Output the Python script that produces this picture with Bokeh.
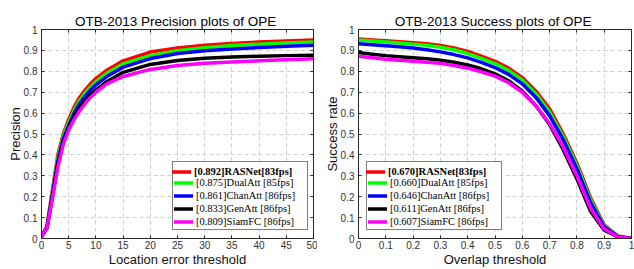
from bokeh.plotting import figure
from bokeh.layouts import row
from bokeh.models import Range1d, FixedTicker, Legend, LegendItem, LinearAxis
from bokeh.embed import file_html
from bokeh.resources import INLINE

# ---------------- data ----------------
trackers = ["RASNet", "DualAtt", "ChanAtt", "GenAtt", "SiamFC"]
colors = ["#ff0000", "#00ff00", "#0000ff", "#000000", "#ff00ff"]

prec_labels = ["[0.892]RASNet[83fps]", "[0.875]DualAtt [85fps]", "[0.861]ChanAtt [86fps]",
               "[0.833]GenAtt [86fps]", "[0.809]SiamFC [86fps]"]
succ_labels = ["[0.670]RASNet[83fps]", "[0.660]DualAtt [85fps]", "[0.646]ChanAtt [86fps]",
               "[0.611]GenAtt [86fps]", "[0.607]SiamFC [86fps]"]

prec_x = [0, 1, 2, 3, 4, 5, 6, 7, 8, 9, 10, 12, 15, 20, 25, 30, 35, 40, 45, 50]
prec_rasnet = [0.01, 0.06, 0.23, 0.40, 0.50, 0.57, 0.63, 0.675, 0.71, 0.74, 0.765, 0.805, 0.85, 0.892, 0.912, 0.925, 0.933, 0.94, 0.945, 0.95]
prec_dualatt = [0.01, 0.055, 0.22, 0.385, 0.49, 0.555, 0.615, 0.66, 0.695, 0.725, 0.75, 0.79, 0.835, 0.875, 0.898, 0.913, 0.923, 0.93, 0.936, 0.94]
prec_chanatt = [0.01, 0.05, 0.21, 0.37, 0.475, 0.54, 0.60, 0.645, 0.68, 0.71, 0.735, 0.775, 0.82, 0.861, 0.885, 0.898, 0.907, 0.914, 0.92, 0.925]
prec_genatt = [0.01, 0.05, 0.20, 0.355, 0.46, 0.525, 0.585, 0.625, 0.66, 0.69, 0.71, 0.75, 0.795, 0.833, 0.852, 0.862, 0.868, 0.872, 0.875, 0.877]
prec_siamfc = [0.01, 0.05, 0.19, 0.34, 0.45, 0.52, 0.57, 0.61, 0.645, 0.675, 0.70, 0.74, 0.775, 0.809, 0.828, 0.838, 0.845, 0.85, 0.855, 0.86]

succ_x = [0.0, 0.05, 0.1, 0.15, 0.2, 0.25, 0.3, 0.35, 0.4, 0.45, 0.5,
          0.55, 0.6, 0.65, 0.7, 0.75, 0.8, 0.85, 0.9, 0.95, 1.0]
succ_rasnet = [0.955, 0.950, 0.946, 0.942, 0.937, 0.932, 0.924, 0.912, 0.895, 0.873, 0.848,
               0.815, 0.770, 0.705, 0.620, 0.500, 0.360, 0.195, 0.065, 0.012, 0.0]
succ_dualatt = [0.950, 0.945, 0.940, 0.935, 0.930, 0.925, 0.915, 0.903, 0.885, 0.862, 0.837,
                0.803, 0.757, 0.692, 0.605, 0.488, 0.348, 0.185, 0.060, 0.011, 0.0]
succ_chanatt = [0.932, 0.927, 0.922, 0.917, 0.911, 0.903, 0.893, 0.880, 0.864, 0.843, 0.818,
                0.785, 0.740, 0.675, 0.588, 0.472, 0.333, 0.172, 0.055, 0.010, 0.0]
succ_genatt = [0.890, 0.882, 0.875, 0.870, 0.865, 0.860, 0.853, 0.843, 0.830, 0.812, 0.788,
               0.755, 0.705, 0.635, 0.545, 0.425, 0.285, 0.130, 0.040, 0.008, 0.0]
succ_siamfc = [0.872, 0.865, 0.858, 0.853, 0.848, 0.843, 0.838, 0.828, 0.815, 0.798, 0.777,
               0.745, 0.700, 0.635, 0.550, 0.438, 0.300, 0.145, 0.045, 0.008, 0.0]

prec_xticks = [0, 5, 10, 15, 20, 25, 30, 35, 40, 45, 50]
prec_xtick_labels = ["0", "5", "10", "15", "20", "25", "30", "35", "40", "45", "50"]
succ_xticks = [0.0, 0.1, 0.2, 0.3, 0.4, 0.5, 0.6, 0.7, 0.8, 0.9, 1.0]
succ_xtick_labels = ["0", "0.1", "0.2", "0.3", "0.4", "0.5", "0.6", "0.7", "0.8", "0.9", "1"]
yticks = [0.0, 0.1, 0.2, 0.3, 0.4, 0.5, 0.6, 0.7, 0.8, 0.9, 1.0]
ytick_labels = ["0", "0.1", "0.2", "0.3", "0.4", "0.5", "0.6", "0.7", "0.8", "0.9", "1"]

AXC = "#262626"
SANS = "Liberation Sans"
SERIF = "Liberation Serif"


def make_plot(title, xlabel, ylabel, xr, xt, xtl, xs, series, labels,
              top, bottom, left, right, width, height, leg_x):
    p = figure(width=width, height=height, output_backend="svg", toolbar_location=None,
               x_range=Range1d(*xr), y_range=Range1d(0, 1),
               min_border_left=left, min_border_right=right,
               min_border_top=top, min_border_bottom=bottom,
               background_fill_color="white", border_fill_color="white")
    p.title.text = title
    p.title.text_font = SANS
    p.title.text_font_size = "13.5px"
    p.title.text_font_style = "normal"
    p.title.text_color = "#000000"
    p.title.align = "center"
    p.title.standoff = 2
    p.outline_line_color = AXC
    p.outline_line_width = 1

    bottom_ax = p.below[0]
    left_ax = p.left[0]
    top_ax = LinearAxis()
    right_ax = LinearAxis()
    p.add_layout(top_ax, "above")
    p.add_layout(right_ax, "right")

    xo = {t: l for t, l in zip(xt, xtl)}
    yo = {t: l for t, l in zip(yticks, ytick_labels)}
    for ax in (bottom_ax, top_ax):
        ax.ticker = FixedTicker(ticks=xt)
        ax.major_label_overrides = xo
    for ax in (left_ax, right_ax):
        ax.ticker = FixedTicker(ticks=yticks)
        ax.major_label_overrides = yo
    for ax in (bottom_ax, top_ax, left_ax, right_ax):
        ax.axis_line_color = AXC
        ax.major_tick_line_color = AXC
        ax.minor_tick_line_color = None
        ax.major_tick_in = 3
        ax.major_tick_out = 0
        ax.major_label_text_font = SANS
        ax.major_label_text_font_size = "10px"
        ax.major_label_text_color = "#333333"
        ax.axis_label_text_font = SANS
        ax.axis_label_text_font_size = "13px"
        ax.axis_label_text_font_style = "normal"
        ax.axis_label_text_color = "#111111"
    bottom_ax.major_label_standoff = 2
    bottom_ax.axis_label = xlabel
    bottom_ax.axis_label_standoff = 0
    left_ax.major_label_standoff = 4
    left_ax.axis_label = ylabel
    left_ax.axis_label_standoff = -2
    for ax in (top_ax, right_ax):
        ax.major_label_text_color = None
        ax.major_label_text_font_size = "1px"
        ax.major_label_standoff = 0

    p.xgrid.ticker = FixedTicker(ticks=xt)
    p.ygrid.ticker = FixedTicker(ticks=yticks)
    for g in (p.xgrid, p.ygrid):
        g.grid_line_color = "#cfcfcf"
        g.grid_line_dash = "4 3"
        g.grid_line_width = 1

    rends = []
    for ys, c in zip(series, colors):
        r = p.line(xs, ys, line_color=c, line_width=3.5, line_join="round", line_cap="round")
        rends.append(r)

    # placeholder renderer for the first framed-legend row (drawn by the bold overlay)
    ghost = p.line([], [], line_alpha=0)

    items_b = [LegendItem(label="", renderers=[ghost])]
    for lab, r in zip(labels[1:], rends[1:]):
        items_b.append(LegendItem(label=lab, renderers=[r]))
    leg_b = Legend(items=items_b, location=(leg_x, 8))
    leg_a = Legend(items=[LegendItem(label=labels[0], renderers=[rends[0]])],
                   location=(leg_x, 60))
    for lg, bold in ((leg_b, False), (leg_a, True)):
        lg.label_text_font = SERIF
        lg.label_text_font_size = "10.5px"
        lg.label_text_font_style = "bold" if bold else "normal"
        lg.label_text_color = "#000000"
        lg.label_height = 13
        lg.glyph_height = 13
        lg.glyph_width = 19
        lg.label_standoff = 3
        lg.spacing = 0
        lg.padding = 1
        lg.margin = 0
        lg.label_width = 110
    leg_b.border_line_color = "#000000"
    leg_b.border_line_width = 1
    leg_b.background_fill_color = "white"
    leg_b.background_fill_alpha = 1.0
    leg_a.border_line_color = None
    leg_a.background_fill_alpha = 0.0
    p.add_layout(leg_b, "center")
    p.add_layout(leg_a, "center")
    return p


p1 = make_plot("OTB-2013  Precision plots of OPE", "Location error threshold", "Precision",
               (0, 50), prec_xticks, prec_xtick_labels, prec_x,
               [prec_rasnet, prec_dualatt, prec_chanatt, prec_genatt, prec_siamfc], prec_labels,
               top=29, bottom=31, left=41, right=4, width=317, height=269, leg_x=131)
p2 = make_plot("OTB-2013  Success plots of OPE", "Overlap threshold", "Success rate",
               (0, 1), succ_xticks, succ_xtick_labels, succ_x,
               [succ_rasnet, succ_dualatt, succ_chanatt, succ_genatt, succ_siamfc], succ_labels,
               top=26, bottom=31, left=41, right=3, width=317, height=269, leg_x=8)

layout = row(p1, p2, spacing=0,
             styles={"position": "absolute", "left": "0px", "top": "0px"})

open("out.html", "w").write(file_html(layout, INLINE))
